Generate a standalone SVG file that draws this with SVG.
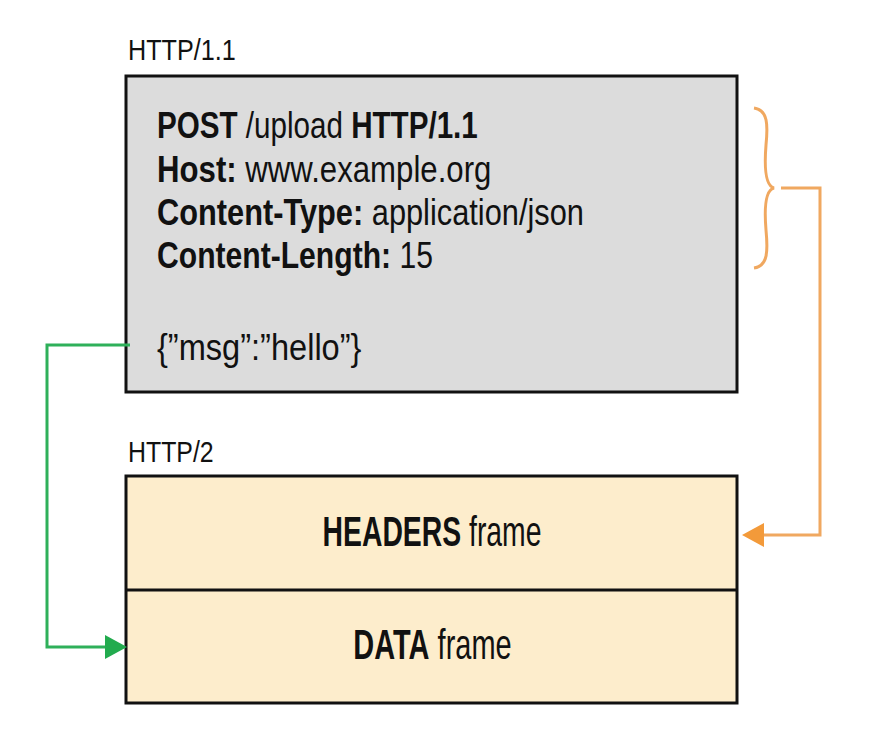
<svg xmlns="http://www.w3.org/2000/svg" width="888" height="750" viewBox="0 0 888 750">
<defs>
<style>
text{font-family:"Liberation Sans",Arial,sans-serif;fill:#111}
.b{font-weight:bold}
.lbl{font-size:30px}
.body{font-size:37px}
.big{font-size:42px;text-anchor:middle}
.box{stroke:#111;stroke-width:3}
.conn{fill:none;stroke-width:3}
</style>
</defs>
<rect width="888" height="750" fill="#fff"/>
<g id="http11">
<text class="lbl" transform="translate(128 60) scale(0.84 1)">HTTP/1.1</text>
<rect class="box" x="126" y="76" width="611" height="316" fill="#dcdcdc"/>
<text class="body" transform="translate(157 138) scale(0.80 1)"><tspan class="b">POST</tspan> /upload <tspan class="b">HTTP/1.1</tspan></text>
<text class="body" transform="translate(157 182) scale(0.843 1)"><tspan class="b">Host:</tspan> www.example.org</text>
<text class="body" transform="translate(157 225) scale(0.832 1)"><tspan class="b">Content-Type:</tspan> application/json</text>
<text class="body" transform="translate(157 268) scale(0.814 1)"><tspan class="b">Content-Length:</tspan> 15</text>
<text class="body" transform="translate(157 360) scale(0.88 1)">{”msg”:”hello”}</text>
</g>
<g id="http2">
<text class="lbl" transform="translate(128 462) scale(0.83 1)">HTTP/2</text>
<rect class="box" x="126" y="476" width="611" height="227" fill="#fdedcc"/>
<line class="box" x1="126" y1="590" x2="737" y2="590"/>
<text class="big" transform="translate(432 546) scale(0.675 1)"><tspan class="b">HEADERS</tspan> frame</text>
<text class="big" transform="translate(432.5 659) scale(0.69 1)"><tspan class="b">DATA</tspan> frame</text>
</g>
<g id="connectors">
<path class="conn" stroke="#f0a860" d="M754,108 C768,110 768,125 766,145 C764,170 766,186 774,188 C766,190 764,206 766,230 C768,251 768,266 754,268"/>
<polyline class="conn" stroke="#f0a860" points="781,188 820,188 820,535 762,535"/>
<path d="M742,535 L764,523 L764,547 z" fill="#f39a3a"/>
<polyline class="conn" stroke="#2eb05a" points="130,345 47,345 47,647 106,647"/>
<path d="M127,647 L105,635 L105,659 z" fill="#22ab4e"/>
</g>
</svg>
